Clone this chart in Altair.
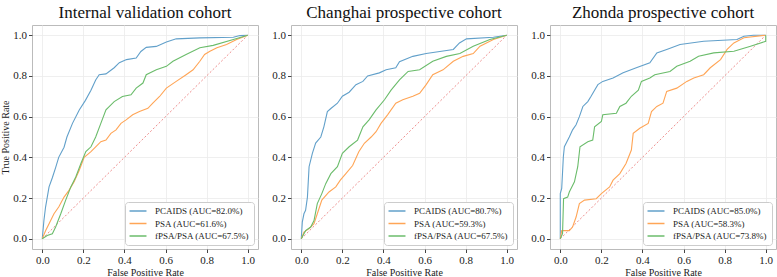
import altair as alt
import pandas as pd

TITLES = ["Internal validation cohort", "Changhai prospective cohort", "Zhonda prospective cohort"]
SERIES = ["PCAIDS", "PSA", "fPSA/PSA"]
AUC = [["82.0%", "61.6%", "67.5%"], ["80.7%", "59.3%", "67.5%"], ["85.0%", "58.3%", "73.8%"]]
COLORS = ["#62a0ca", "#ffa556", "#6bbc6b"]
DIAG = [0.0, 1.0]
TICKS = [0.0, 0.2, 0.4, 0.6, 0.8, 1.0]

# Panel 1: Internal validation cohort
P1_PCAIDS_FPR = [0, 0.008, 0.016, 0.033, 0.049, 0.065, 0.08, 0.106, 0.12, 0.147, 0.18, 0.21, 0.237, 0.26, 0.277, 0.31, 0.35, 0.375, 0.41, 0.457, 0.48, 0.506, 0.555, 0.604, 0.652, 0.767, 0.93, 0.962, 1.0]
P1_PCAIDS_TPR = [0, 0.09, 0.156, 0.255, 0.30, 0.35, 0.40, 0.45, 0.50, 0.567, 0.633, 0.68, 0.73, 0.78, 0.806, 0.81, 0.84, 0.865, 0.88, 0.888, 0.92, 0.94, 0.945, 0.967, 0.982, 0.987, 0.99, 0.998, 1.0]
P1_PSA_FPR = [0, 0.016, 0.033, 0.057, 0.08, 0.106, 0.13, 0.155, 0.18, 0.204, 0.237, 0.26, 0.285, 0.31, 0.334, 0.359, 0.383, 0.408, 0.44, 0.473, 0.514, 0.538, 0.571, 0.604, 0.652, 0.70, 0.734, 0.767, 0.79, 0.816, 0.85, 0.897, 0.946, 1.0]
P1_PSA_TPR = [0, 0.04, 0.074, 0.123, 0.156, 0.205, 0.238, 0.28, 0.337, 0.40, 0.428, 0.452, 0.477, 0.485, 0.518, 0.535, 0.567, 0.584, 0.609, 0.625, 0.641, 0.666, 0.699, 0.74, 0.773, 0.806, 0.83, 0.872, 0.905, 0.921, 0.938, 0.954, 0.979, 1.0]
P1_FPSA_FPR = [0, 0.024, 0.049, 0.065, 0.09, 0.114, 0.139, 0.163, 0.188, 0.212, 0.237, 0.26, 0.285, 0.31, 0.35, 0.39, 0.432, 0.457, 0.49, 0.506, 0.555, 0.604, 0.636, 0.70, 0.767, 0.832, 0.93, 1.0]
P1_FPSA_TPR = [0, 0.016, 0.025, 0.058, 0.123, 0.19, 0.255, 0.304, 0.37, 0.428, 0.452, 0.50, 0.567, 0.633, 0.674, 0.699, 0.707, 0.74, 0.765, 0.806, 0.83, 0.847, 0.872, 0.905, 0.938, 0.95, 0.979, 1.0]

# Panel 2: Changhai prospective cohort
P2_PCAIDS_FPR = [0, 0.005, 0.013, 0.021, 0.03, 0.038, 0.054, 0.07, 0.095, 0.11, 0.127, 0.144, 0.176, 0.2, 0.233, 0.266, 0.3, 0.323, 0.38, 0.413, 0.46, 0.478, 0.543, 0.608, 0.74, 0.77, 0.804, 0.935, 1.0]
P2_PCAIDS_TPR = [0, 0.082, 0.123, 0.14, 0.205, 0.354, 0.42, 0.47, 0.50, 0.55, 0.625, 0.64, 0.666, 0.70, 0.72, 0.757, 0.773, 0.80, 0.815, 0.83, 0.84, 0.87, 0.896, 0.91, 0.93, 0.962, 0.982, 0.99, 1.0]
P2_PSA_FPR = [0, 0.013, 0.038, 0.062, 0.078, 0.10, 0.135, 0.168, 0.19, 0.217, 0.25, 0.28, 0.307, 0.34, 0.364, 0.388, 0.42, 0.46, 0.494, 0.543, 0.576, 0.608, 0.64, 0.69, 0.74, 0.788, 0.837, 0.87, 0.935, 1.0]
P2_PSA_TPR = [0, 0.033, 0.05, 0.074, 0.123, 0.19, 0.23, 0.255, 0.288, 0.32, 0.36, 0.428, 0.469, 0.50, 0.526, 0.567, 0.609, 0.666, 0.683, 0.70, 0.715, 0.757, 0.806, 0.83, 0.872, 0.896, 0.91, 0.946, 0.979, 1.0]
P2_FPSA_FPR = [0, 0.021, 0.046, 0.062, 0.078, 0.10, 0.119, 0.144, 0.176, 0.2, 0.233, 0.274, 0.30, 0.33, 0.364, 0.405, 0.437, 0.478, 0.52, 0.576, 0.64, 0.706, 0.772, 0.837, 0.918, 1.0]
P2_FPSA_TPR = [0, 0.04, 0.058, 0.09, 0.173, 0.222, 0.271, 0.32, 0.354, 0.42, 0.452, 0.485, 0.55, 0.584, 0.633, 0.683, 0.73, 0.78, 0.822, 0.83, 0.872, 0.896, 0.91, 0.946, 0.979, 1.0]

# Panel 3: Zhonda prospective cohort
P3_PCAIDS_FPR = [0, 0.0, 0.007, 0.015, 0.02, 0.044, 0.06, 0.077, 0.093, 0.11, 0.134, 0.15, 0.167, 0.183, 0.207, 0.257, 0.306, 0.37, 0.436, 0.47, 0.518, 0.583, 0.698, 0.86, 0.894, 0.94, 1.0]
P3_PCAIDS_TPR = [0, 0.222, 0.247, 0.403, 0.452, 0.50, 0.535, 0.56, 0.60, 0.65, 0.674, 0.70, 0.73, 0.757, 0.773, 0.79, 0.815, 0.84, 0.864, 0.913, 0.93, 0.954, 0.97, 0.979, 0.995, 1.0, 1.0]
P3_PSA_FPR = [0, 0.007, 0.044, 0.06, 0.077, 0.093, 0.118, 0.175, 0.2, 0.24, 0.257, 0.29, 0.32, 0.346, 0.355, 0.387, 0.428, 0.444, 0.47, 0.50, 0.518, 0.567, 0.616, 0.65, 0.698, 0.73, 0.78, 0.812, 0.845, 0.894, 1.0]
P3_PSA_TPR = [0, 0.04, 0.04, 0.058, 0.107, 0.173, 0.19, 0.197, 0.222, 0.255, 0.288, 0.32, 0.37, 0.436, 0.518, 0.543, 0.567, 0.625, 0.65, 0.666, 0.724, 0.74, 0.773, 0.79, 0.806, 0.84, 0.88, 0.93, 0.962, 0.987, 1.0]
P3_FPSA_FPR = [0, 0.011, 0.016, 0.036, 0.044, 0.069, 0.085, 0.096, 0.134, 0.158, 0.167, 0.2, 0.207, 0.273, 0.29, 0.32, 0.346, 0.38, 0.395, 0.436, 0.46, 0.534, 0.567, 0.632, 0.673, 0.747, 0.845, 0.926, 1.0, 1.0]
P3_FPSA_TPR = [0, 0.025, 0.197, 0.205, 0.23, 0.28, 0.354, 0.452, 0.477, 0.485, 0.55, 0.576, 0.609, 0.617, 0.65, 0.666, 0.70, 0.73, 0.773, 0.79, 0.806, 0.822, 0.847, 0.872, 0.897, 0.913, 0.921, 0.946, 0.97, 1.0]

PANELS = [
    [(P1_PCAIDS_FPR, P1_PCAIDS_TPR), (P1_PSA_FPR, P1_PSA_TPR), (P1_FPSA_FPR, P1_FPSA_TPR)],
    [(P2_PCAIDS_FPR, P2_PCAIDS_TPR), (P2_PSA_FPR, P2_PSA_TPR), (P2_FPSA_FPR, P2_FPSA_TPR)],
    [(P3_PCAIDS_FPR, P3_PCAIDS_TPR), (P3_PSA_FPR, P3_PSA_TPR), (P3_FPSA_FPR, P3_FPSA_TPR)],
]

FONT = "Liberation Serif"


def panel(i):
    labels = [f"{s} (AUC={a})" for s, a in zip(SERIES, AUC[i])]
    rows = []
    for k, (fx, ty) in enumerate(PANELS[i]):
        for j, (x, y) in enumerate(zip(fx, ty)):
            rows.append({"fpr": x, "tpr": y, "series": labels[k], "idx": j})
    df = pd.DataFrame(rows)
    xscale = alt.Scale(domain=[-0.05, 1.05], nice=False, zero=False)
    yscale = alt.Scale(domain=[-0.05, 1.05], nice=False, zero=False)
    xenc = alt.X("fpr:Q", scale=xscale,
                 axis=alt.Axis(values=TICKS, format=".1f", title="False Positive Rate"))
    if i == 0:
        yaxis = alt.Axis(values=TICKS, format=".1f", title="True Positive Rate")
    else:
        yaxis = alt.Axis(values=TICKS, format=".1f", title=None)
    yenc = alt.Y("tpr:Q", scale=yscale, axis=yaxis)

    diag = alt.Chart(pd.DataFrame({"fpr": DIAG, "tpr": DIAG})).mark_line(
        color="#e8706f", strokeWidth=0.8, strokeDash=[2, 2]
    ).encode(x=xenc, y=yenc)

    lines = alt.Chart(df).mark_line(strokeWidth=1.1).encode(
        x=xenc,
        y=yenc,
        color=alt.Color(
            "series:N",
            scale=alt.Scale(domain=labels, range=COLORS),
            legend=alt.Legend(
                title=None, orient="bottom-right", offset=4, padding=4,
                strokeColor="#cccccc", fillColor="white", cornerRadius=3,
                symbolType="M-2,0H2", symbolSize=72, symbolStrokeWidth=1.5,
                symbolOffset=4, labelOffset=12, rowPadding=2.5, labelLimit=300,
                labelFont=FONT, labelFontSize=9, labelColor="#222222",
            ),
        ),
        order="idx:Q",
    )
    return alt.layer(diag, lines).properties(
        width=226, height=224,
        title=alt.TitleParams(TITLES[i], font=FONT, fontSize=17, fontWeight="normal",
                              color="#111111", offset=3),
    )


chart = alt.hconcat(panel(0), panel(1), panel(2), spacing=33, bounds="flush").resolve_scale(
    color="independent"
).properties(padding={"left": 0, "top": 3, "right": 0, "bottom": 0}).configure_view(
    stroke="#bbbbbb", strokeWidth=1
).configure_axis(
    labelFont=FONT, titleFont=FONT, labelFontSize=11, titleFontSize=10,
    labelColor="#222222", titleColor="#222222", titleFontWeight="normal",
    grid=True, gridColor="#ebebeb", gridWidth=0.8, domain=False,
    tickColor="#444444", tickSize=3.5, labelPadding=2, titlePadding=2,
)

chart.save("out.html", embed_options={"renderer": "svg", "actions": False})
